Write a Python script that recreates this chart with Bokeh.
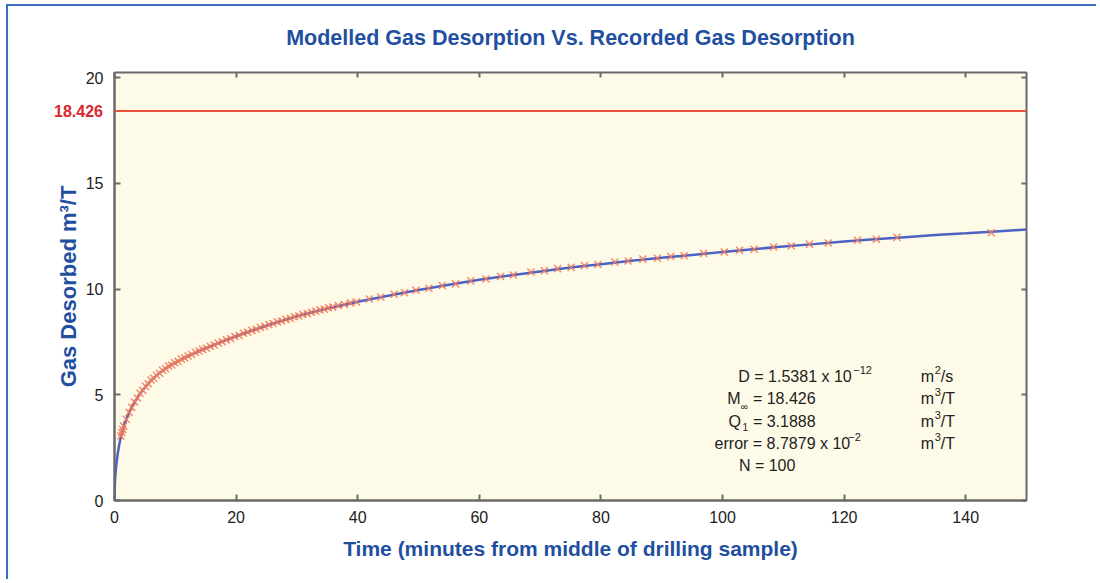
from bokeh.plotting import figure
from bokeh.models import Label, LinearAxis, Span, FixedTicker
from bokeh.embed import file_html
from bokeh.resources import INLINE

# ---- data ----
time_min = [1.05, 1.2, 1.35, 1.5, 1.95, 2.4, 2.85, 3.3, 3.75, 4.2, 4.65, 5.1, 5.55, 6.0, 6.45,
            6.9, 7.4, 7.9, 8.4, 8.9, 9.4, 9.9, 10.45, 11.0, 11.55, 12.1, 12.7, 13.3, 13.9, 14.5,
            15.1, 15.75, 16.4, 17.05, 17.7, 18.4, 19.1, 19.8, 20.5, 21.2, 21.9, 22.6, 23.3, 24.0,
            24.7, 25.4, 26.1, 26.8, 27.5, 28.2, 28.9, 29.6, 30.3, 31.0, 31.7, 32.4, 33.1, 33.8,
            34.5, 35.2, 35.9, 36.8, 37.8, 38.8, 39.8, 41.9, 43.8, 46.0, 47.7, 49.6, 51.7, 53.9,
            56.1, 58.6, 61.1, 63.5, 65.6, 68.5, 70.7, 72.9, 75.1, 77.3, 79.5, 82.3, 84.5, 86.9,
            89.3, 91.5, 93.7, 96.9, 100.3, 102.8, 105.2, 108.4, 111.3, 114.3, 117.4, 122.2,
            125.3, 128.7, 144.2]
gas_recorded = [3.05, 3.22, 3.36, 3.52, 3.84, 4.16, 4.40, 4.66, 4.85, 5.07, 5.21, 5.40, 5.52,
                5.70, 5.78, 5.93, 6.02, 6.16, 6.23, 6.36, 6.41, 6.52, 6.58, 6.69, 6.74, 6.84,
                6.91, 7.01, 7.07, 7.15, 7.20, 7.30, 7.36, 7.45, 7.51, 7.60, 7.66, 7.76, 7.81,
                7.91, 7.96, 8.05, 8.10, 8.19, 8.24, 8.32, 8.37, 8.45, 8.49, 8.57, 8.61, 8.69,
                8.73, 8.81, 8.84, 8.91, 8.95, 9.02, 9.05, 9.12, 9.15, 9.23, 9.27, 9.35, 9.39,
                9.53, 9.62, 9.76, 9.83, 9.95, 10.04, 10.17, 10.25, 10.39, 10.48, 10.60, 10.67,
                10.81, 10.87, 10.97, 11.03, 11.12, 11.17, 11.28, 11.33, 11.42, 11.46, 11.54,
                11.58, 11.69, 11.76, 11.84, 11.89, 11.99, 12.04, 12.13, 12.18, 12.31, 12.36,
                12.45, 12.67]

model_time = [0, 0.02, 0.05, 0.1, 0.15, 0.2, 0.3, 0.4, 0.5, 0.75, 1.0, 1.5, 2.0, 2.5, 3.0, 4.0,
              5.0, 6.0, 7.5, 9.0, 10.5, 12.0, 14.0, 16.0, 18.0, 20.0, 22.5, 25.0, 27.5, 30.0,
              32.5, 35.0, 37.5, 40.0, 45.0, 50.0, 55.0, 60.0, 65.0, 70.0, 75.0, 80.0, 85.0,
              90.0, 95.0, 100.0, 105.0, 110.0, 115.0, 120.0, 125.0, 130.0, 135.0, 140.0,
              145.0, 150.0]
model_gas = [0, 0.45, 0.7, 1.0, 1.2, 1.38, 1.68, 1.93, 2.15, 2.6, 2.95, 3.5, 3.9, 4.22, 4.5,
             4.98, 5.35, 5.68, 6.06, 6.36, 6.6, 6.82, 7.08, 7.32, 7.55, 7.77, 8.03, 8.27, 8.5,
             8.72, 8.9, 9.08, 9.24, 9.4, 9.69, 9.96, 10.21, 10.44, 10.65, 10.84, 11.02, 11.18,
             11.34, 11.48, 11.62, 11.76, 11.89, 12.02, 12.13, 12.25, 12.36, 12.46, 12.56,
             12.64, 12.73, 12.82]

m_inf = 18.426
x_ticks = [0, 20, 40, 60, 80, 100, 120, 140]
y_ticks = [0, 5, 10, 15, 20]
title_text = "Modelled Gas Desorption Vs. Recorded Gas Desorption"

FONT = "Liberation Sans"
BLUE_TXT = "#1f4f9f"
GRID_COL = "#6a6a6a"
TXT = "#222222"

p = figure(width=1090, height=575, x_range=(0, 150), y_range=(0, 20.25),
           output_backend="svg", toolbar_location=None,
           min_border_left=106, min_border_right=72, min_border_top=66, min_border_bottom=81,
           background_fill_color="#fefae8", border_fill_color="white")
p.styles = {"border-top": "2px solid #3b6ec2", "border-left": "2px solid #3b6ec2",
            "margin-left": "6px", "margin-top": "4px"}

p.grid.visible = False
p.outline_line_color = GRID_COL
p.outline_line_width = 2

for ax in (p.xaxis[0], p.yaxis[0]):
    ax.axis_line_color = GRID_COL
    ax.axis_line_width = 2
    ax.major_tick_in = 6
    ax.major_tick_out = 0
    ax.major_tick_line_color = GRID_COL
    ax.major_tick_line_width = 2
    ax.minor_tick_line_color = None
    ax.major_label_text_font = FONT
    ax.major_label_text_font_size = "16px"
    ax.major_label_text_color = TXT
    ax.axis_label_text_font = FONT
    ax.axis_label_text_font_style = "bold"
    ax.axis_label_text_color = BLUE_TXT

p.xaxis[0].ticker = FixedTicker(ticks=x_ticks)
p.yaxis[0].ticker = FixedTicker(ticks=y_ticks)
p.xaxis[0].axis_label = "Time (minutes from middle of drilling sample)"
p.xaxis[0].axis_label_text_font_size = "21px"
p.xaxis[0].major_label_standoff = 10
p.xaxis[0].axis_label_standoff = 11
p.yaxis[0].axis_label = "Gas Desorbed m\u00b3/T"
p.yaxis[0].axis_label_text_font_size = "22px"
p.yaxis[0].major_label_standoff = 11
p.yaxis[0].axis_label_standoff = 2

top_ax = LinearAxis(ticker=FixedTicker(ticks=x_ticks), major_label_text_color=None,
                    major_tick_in=5, major_tick_out=0, minor_tick_line_color=None,
                    axis_line_color=GRID_COL, major_tick_line_color=GRID_COL,
                    major_tick_line_width=2, major_label_text_font_size="1px")
right_ax = LinearAxis(ticker=FixedTicker(ticks=y_ticks), major_label_text_color=None,
                      major_tick_in=5, major_tick_out=0, minor_tick_line_color=None,
                      axis_line_color=GRID_COL, major_tick_line_color=GRID_COL,
                      major_tick_line_width=2, major_label_text_font_size="1px")
p.add_layout(top_ax, "above")
p.add_layout(right_ax, "right")

# title as a label in the top side panel (positioned through the plot's scales)
p.add_layout(Label(x=75, y=21.9, text=title_text, text_align="center",
                   text_baseline="middle", text_font=FONT, text_font_size="21.5px",
                   text_font_style="bold", text_color=BLUE_TXT), "above")

p.add_layout(Span(location=m_inf, dimension="width", line_color="#ee4f3a", line_width=2))
# red value label drawn left of the frame (side-panel annotation, so it is not clipped)
p.add_layout(Label(x=-1.9, y=m_inf, text=str(m_inf), text_align="right",
                   text_baseline="middle", text_font=FONT, text_font_size="16px",
                   text_font_style="bold", text_color="#d8282c"), "right")

p.line(model_time, model_gas, line_color="#4d62c2", line_width=2.5)
p.scatter(time_min, gas_recorded, marker="x", size=10, line_color="#f37a59",
          line_width=1.4, line_alpha=0.9)

# fitted-parameter block
def lab(x, y, text, size="16px"):
    p.add_layout(Label(x=x, y=y, text=text, text_align="left", text_baseline="middle",
                       text_font=FONT, text_font_size=size, text_color=TXT))

row_y = [5.88, 4.82, 3.76, 2.72, 1.66]
lab(102.6, row_y[0], "D = 1.5381 x 10")
lab(121.5, row_y[0] + 0.3, "\u221212", "11px")
lab(100.8, row_y[1], "M")
lab(103.0, row_y[1] - 0.35, "\u221e", "10px")
lab(105.0, row_y[1], "= 18.426")
lab(101.0, row_y[2], "Q")
lab(103.3, row_y[2] - 0.3, "1", "10px")
lab(105.0, row_y[2], "= 3.1888")
lab(98.7, row_y[3], "error = 8.7879 x 10")
lab(120.7, row_y[3] + 0.3, "\u22122", "11px")
lab(102.7, row_y[4], "N = 100")

for yy, sup, tail in ((row_y[0], "2", "/s"), (row_y[1], "3", "/T"),
                      (row_y[2], "3", "/T"), (row_y[3], "3", "/T")):
    lab(132.6, yy, "m")
    lab(134.9, yy + 0.3, sup, "11px")
    lab(135.9, yy, tail)

open("out.html", "w").write(file_html(p, INLINE))
